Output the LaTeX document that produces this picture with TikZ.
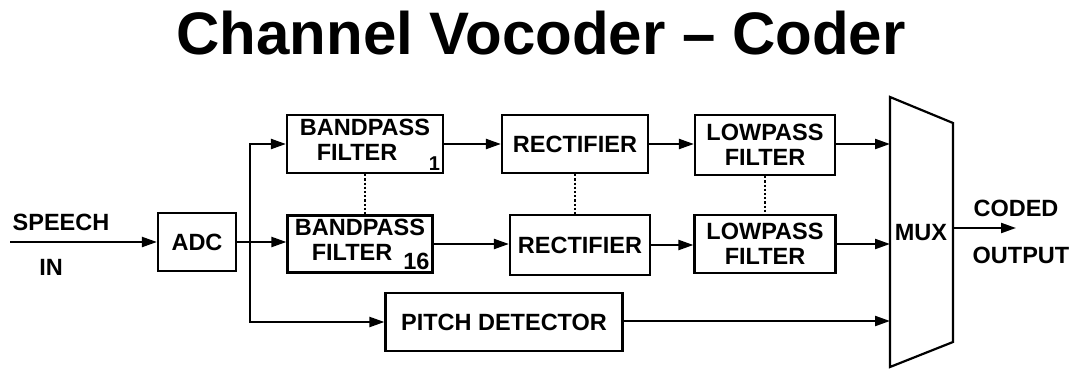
\documentclass[tikz,border=0pt]{standalone}
\usepackage{fontspec}
\setmainfont{Liberation Sans}
\usetikzlibrary{arrows.meta}
\begin{document}
\begin{tikzpicture}[
    x=1pt, y=-1pt,
    box/.style={draw, line width=2.2pt, align=center, inner sep=0pt,
                font=\fontsize{23.5}{25}\selectfont\bfseries},
    lbl/.style={font=\fontsize{23.5}{25}\selectfont\bfseries, inner sep=0pt},
    arrow/.style={-{Triangle[length=15pt, width=10pt]}, line width=2.2pt},
    dots/.style={dotted, line width=2.2pt}
]
\useasboundingbox (0,0) rectangle (1073,369);

\node[font=\fontsize{60}{62}\selectfont\bfseries] (title) at (541,33) {Channel Vocoder -- Coder};

\node[box, minimum width=78pt, minimum height=58pt] (adc) at (197,242) {ADC};
\node[box, minimum width=156pt, minimum height=58pt] (bpf1) at (365,144) {BANDPASS\\FILTER\hspace{16pt}\strut};
\node[box, minimum width=145pt, minimum height=57pt] (bpf16) at (360,244) {BANDPASS\\FILTER\hspace{16pt}\strut};
\node[box, minimum width=146pt, minimum height=58pt] (rect1) at (575,144) {RECTIFIER};
\node[box, minimum width=140pt, minimum height=60pt] (rect2) at (580,245) {RECTIFIER};
\node[box, minimum width=140pt, minimum height=60pt] (lpf1) at (765,145) {LOWPASS\\FILTER};
\node[box, minimum width=141pt, minimum height=58pt] (lpf2) at (765,244) {LOWPASS\\FILTER};
\node[box, minimum width=237pt, minimum height=58pt] (pitch) at (504,322) {PITCH DETECTOR};

% channel numbers
\node[lbl, anchor=south east, font=\fontsize{20}{22}\selectfont\bfseries] (n1) at ([xshift=-4pt, yshift=3pt]bpf1.south east) {1};
\node[lbl, anchor=south east] (n16) at ([xshift=-4pt, yshift=4pt]bpf16.south east) {16};

% multiplexer
\coordinate (mtl) at (890,97);
\coordinate (mtr) at (953,123);
\coordinate (mbr) at (953,342);
\coordinate (mbl) at (890,367);
\draw[line width=2.2pt] (mtl) -- (mtr) -- (mbr) -- (mbl) -- cycle;
\node[lbl] (mux) at (921,233) {MUX};
\coordinate (m1) at (890,144);
\coordinate (m2) at (890,244);
\coordinate (m3) at (890,321);
\coordinate (mout) at (953,228);
\coordinate (out) at (1016,228);

% input and output labels
\coordinate (in) at (10,242);
\node[lbl] (speech) at (61,222) {SPEECH};
\node[lbl] (inlbl) at (51,267) {IN};
\node[lbl] (coded) at (1016,208) {CODED};
\node[lbl] (output) at (1021,255) {OUTPUT};

\coordinate (br) at (250,242);

\draw[arrow] (in) -- (adc);
\draw[line width=2.2pt] (adc) -- (br);
\draw[arrow] (br) -- (bpf16.west |- br);
\draw[arrow] (br) |- (bpf1.west);
\draw[arrow] (br) |- (pitch.west);

\draw[arrow] (bpf1) -- (rect1);
\draw[arrow] (bpf16.east) -- (bpf16.east -| rect2.west);
\draw[arrow] (rect1) -- (rect1 -| lpf1.west);
\draw[arrow] (rect2) -- (rect2 -| lpf2.west);
\draw[arrow] (lpf1.east |- m1) -- (m1);
\draw[arrow] (lpf2.east |- m2) -- (m2);
\draw[arrow] (pitch.east |- m3) -- (m3);
\draw[arrow] (mout) -- (out);

\draw[dots] (bpf1.south) -- (bpf1.south |- bpf16.north);
\draw[dots] (rect1.south) -- (rect1.south |- rect2.north);
\draw[dots] (lpf1.south) -- (lpf1.south |- lpf2.north);

\end{tikzpicture}
\end{document}
